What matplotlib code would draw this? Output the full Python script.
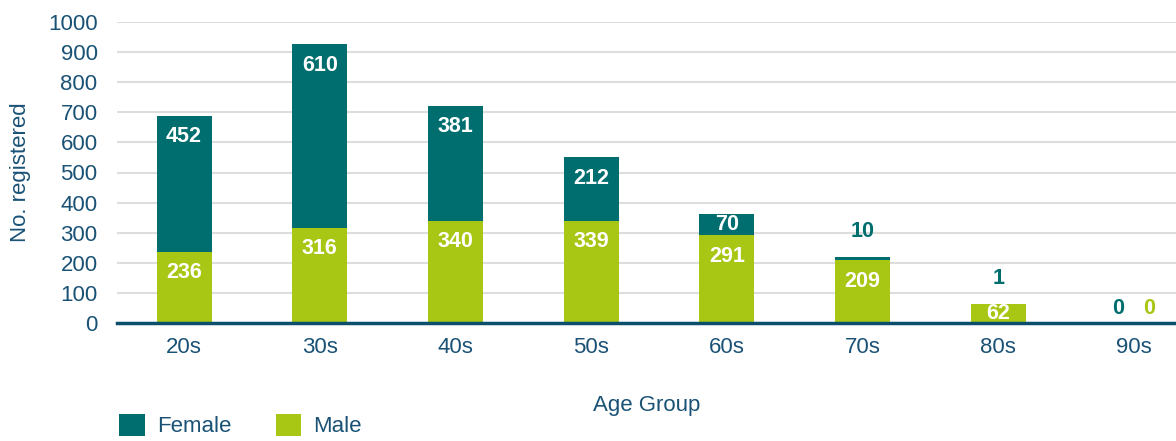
import matplotlib
matplotlib.use("Agg")
import matplotlib.pyplot as plt
from matplotlib import font_manager
import numpy as np

categories = ["20s", "30s", "40s", "50s", "60s", "70s", "80s", "90s"]
female = [452, 610, 381, 212, 70, 10, 1, 0]
male = [236, 316, 340, 339, 291, 209, 62, 0]
yticks = [0, 100, 200, 300, 400, 500, 600, 700, 800, 900, 1000]

TEAL = "#006E6E"
LIME = "#A8C614"
TXT = "#1A5276"
AXC = "#0B4F6C"

plt.rcParams['font.family'] = ['Liberation Sans', 'DejaVu Sans']
names = {f.name for f in font_manager.fontManager.ttflist}
narrow = 'Liberation Sans Narrow' if 'Liberation Sans Narrow' in names else 'Liberation Sans'

fig = plt.figure(figsize=(11.76, 4.41), dpi=100)
W, H = 1176, 441
ax = fig.add_axes([117 / W, 1 - 323 / H, 1 - 117 / W, (323 - 22) / H])

x = np.arange(len(categories))
bw = 0.405
ax.bar(x, male, bw, color=LIME, zorder=3, label="Male")
ax.bar(x, female, bw, bottom=male, color=TEAL, zorder=3, label="Female")

FS = 16
ax.set_ylim(0, 1000)
ax.set_xlim(-0.494, 7.31)
ax.set_yticks(yticks)
ax.set_xticks(x)
ax.set_xticklabels(categories)
ax.yaxis.grid(True, color="#DDDDDD", linewidth=1.5, zorder=0)
ax.set_axisbelow(True)
for s in ["top", "right", "left"]:
    ax.spines[s].set_visible(False)
ax.spines["bottom"].set_color(AXC)
ax.spines["bottom"].set_linewidth(2.5)
ax.spines["bottom"].set_zorder(5)
ax.tick_params(axis="both", length=0, labelsize=FS, labelcolor=TXT)
ax.tick_params(axis="x", pad=10)
ax.tick_params(axis="y", pad=14)
ax.set_ylabel("No. registered", fontsize=FS, color=TXT, labelpad=12)
ax.set_xlabel("Age Group", fontsize=FS, color=TXT, labelpad=27)

pxu = (323 - 22) / 1000.0
lblfont = dict(fontsize=15.5, fontweight="bold", family=[narrow, 'DejaVu Sans'],
               ha="center", va="center", zorder=6)

for i in range(len(categories)):
    m, f = male[i], female[i]
    if m + f == 0:
        ax.annotate(str(f), (x[i] - 0.115, 0), xytext=(0, 14), textcoords="offset pixels",
                    color=TEAL, **lblfont)
        ax.annotate(str(m), (x[i] + 0.115, 0), xytext=(0, 14), textcoords="offset pixels",
                    color=LIME, **lblfont)
        continue
    for val, base, col in [(m, 0, LIME), (f, m, TEAL)]:
        hpx = val * pxu
        top = base + val
        if hpx > 40:
            ax.annotate(str(val), (x[i], top), xytext=(0, -21), textcoords="offset pixels",
                        color="white", **lblfont)
        elif hpx >= 17:
            ax.annotate(str(val), (x[i], base + val / 2), xytext=(0, 0),
                        textcoords="offset pixels", color="white", **lblfont)
        else:
            ax.annotate(str(val), (x[i], top), xytext=(0, 26), textcoords="offset pixels",
                        color=col, **lblfont)

handles, labels = ax.get_legend_handles_labels()
leg = fig.legend(handles[::-1], labels[::-1], loc="lower left", bbox_to_anchor=(119 / W, 0.008),
                 ncol=2, frameon=False, fontsize=FS, handlelength=1.15, handleheight=1.15,
                 columnspacing=2.0, handletextpad=0.55, borderpad=0, borderaxespad=0)
for t in leg.get_texts():
    t.set_color(TXT)

fig.savefig("out.png", dpi=100)
